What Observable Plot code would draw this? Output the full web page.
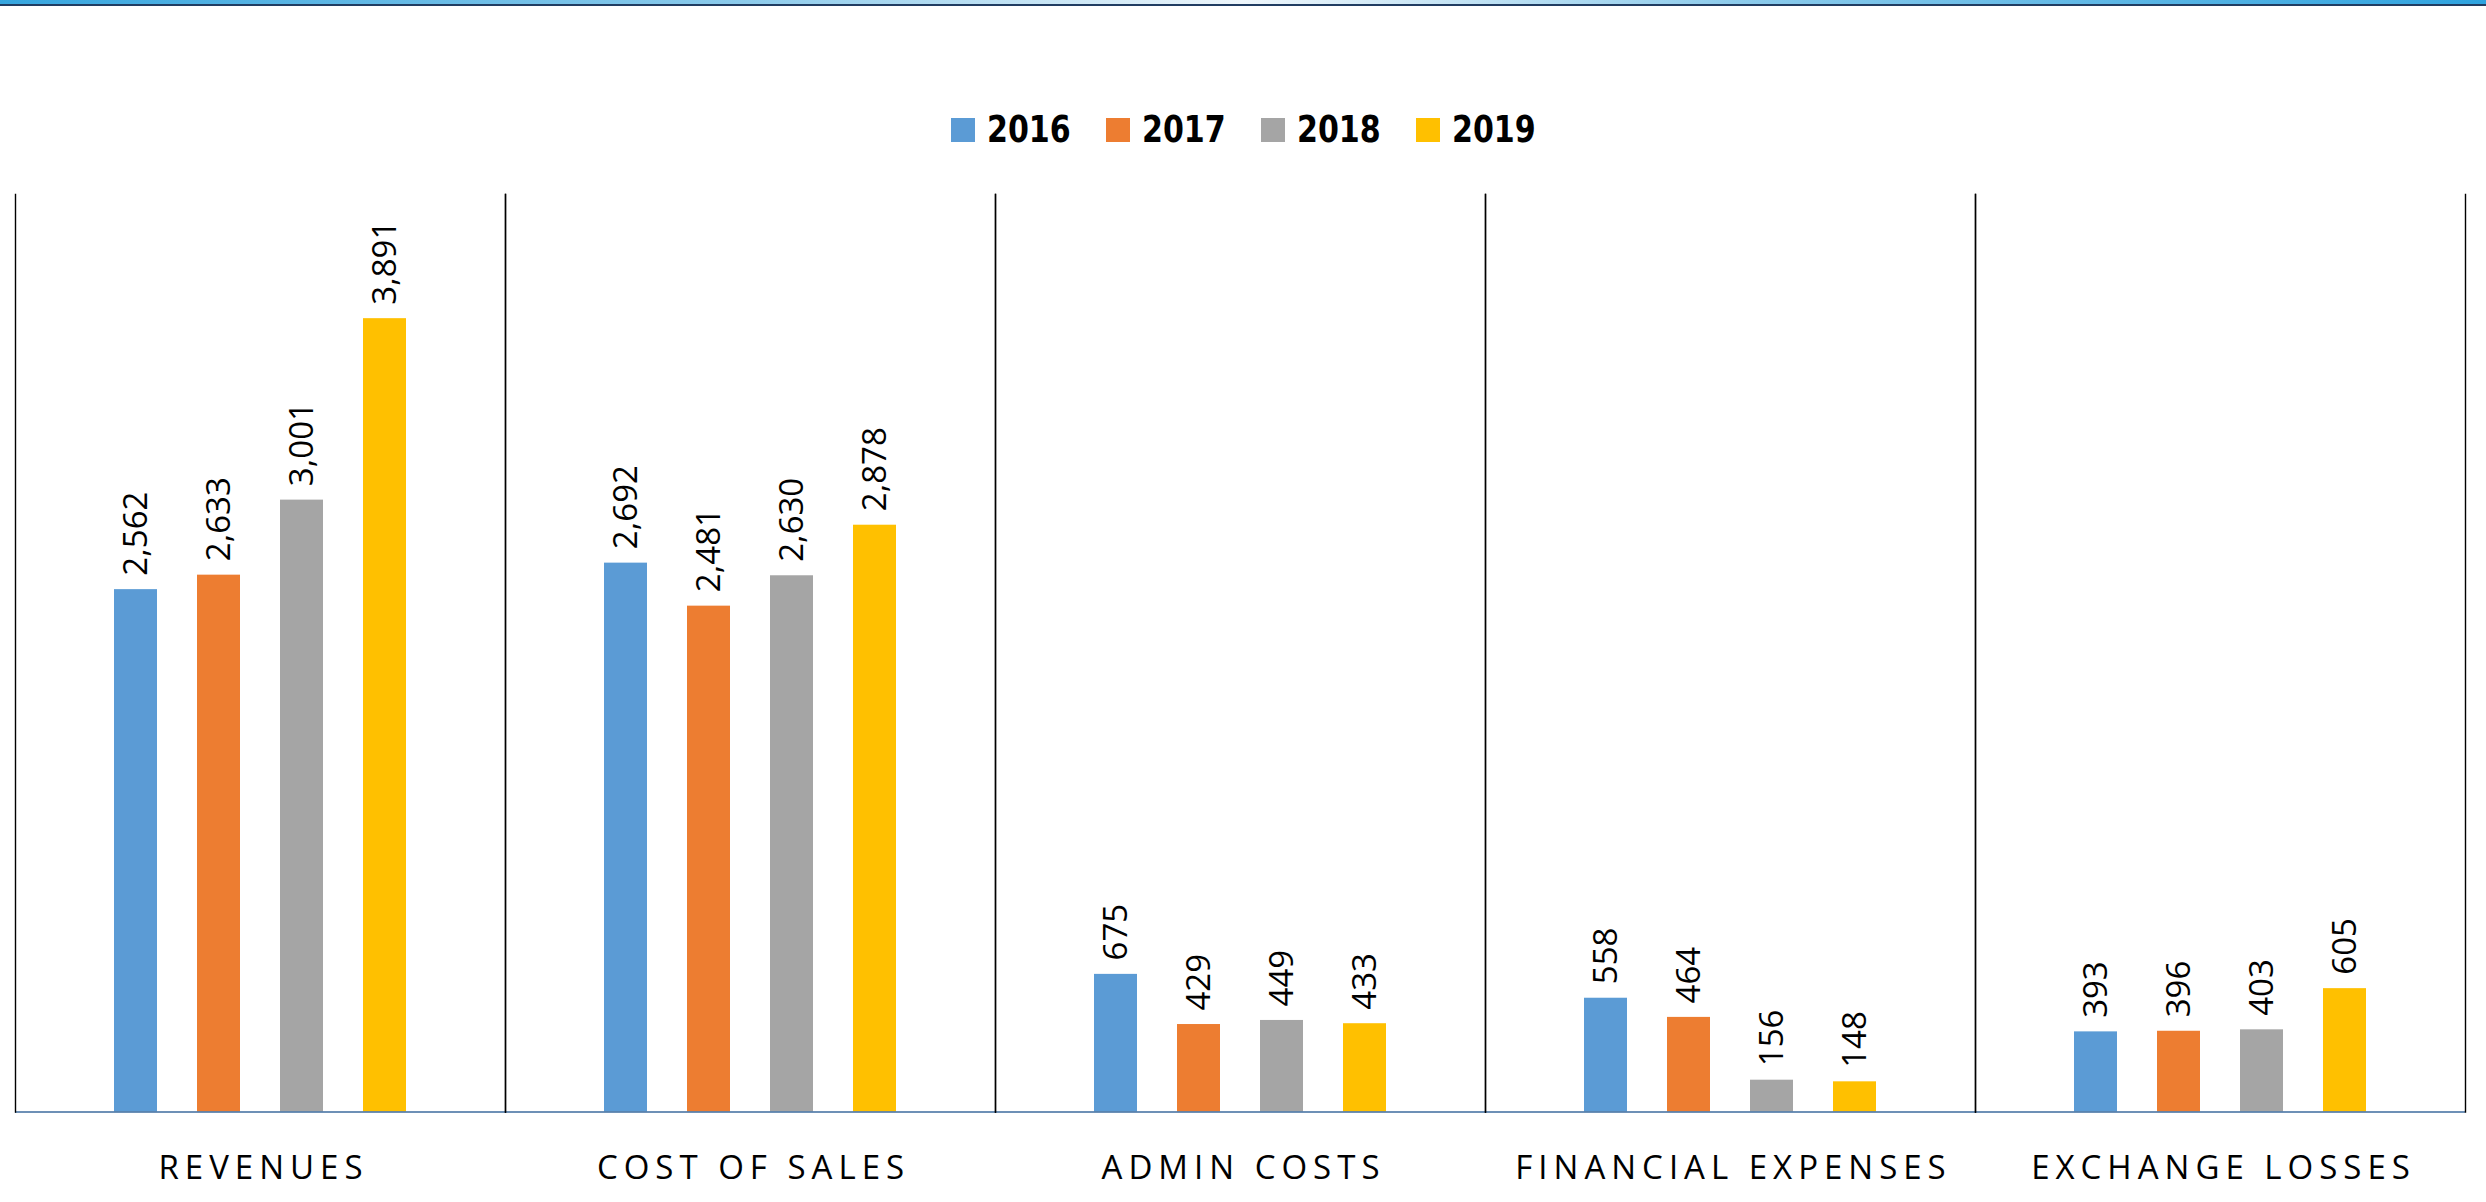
<!DOCTYPE html>
<html>
<head>
<meta charset="utf-8">
<script src="https://cdn.jsdelivr.net/npm/d3@7"></script>
<script src="https://cdn.jsdelivr.net/npm/@observablehq/plot@0.6"></script>
<style>
  html, body { margin: 0; padding: 0; background: #fff; }
  body { width: 2486px; height: 1202px; position: relative; overflow: hidden; }
  #topbar { position: absolute; left: 0; top: 0; width: 2486px; height: 4px;
    background: linear-gradient(to right, #36a6df 0%, #8ccbeb 30%, #eef6fb 50%, #8ccbeb 70%, #2ea3df 100%); }
  #topline { position: absolute; left: 0; top: 4px; width: 2486px; height: 2px; background: #213d62; }
  #legend { position: absolute; left: 0; top: 107.4px; width: 2486px;
    display: flex; justify-content: center; align-items: baseline;
    font-family: "DejaVu Sans Condensed", "DejaVu Sans", sans-serif;
    font-weight: bold; font-size: 38px; line-height: normal; color: #000; }
  .item { display: flex; align-items: baseline; margin: 0 17.5px; }
  .sw { width: 24px; height: 24px; margin-right: 12px; }
  .lbl { display: inline-block; width: 84px; white-space: nowrap;
    transform: scaleX(0.88); transform-origin: 0 50%; }
  #chart { position: absolute; left: 0; top: 180px; }
</style>
</head>
<body>
<div id="topbar"></div>
<div id="topline"></div>
<div id="legend"></div>
<div id="chart"></div>
<script>
const categories = ["REVENUES", "COST OF SALES", "ADMIN COSTS", "FINANCIAL EXPENSES", "EXCHANGE LOSSES"];
const years = ["2016", "2017", "2018", "2019"];
const colors = ["#5B9BD5", "#ED7D31", "#A5A5A5", "#FFC000"];
const values2016 = [2562, 2692, 675, 558, 393];
const values2017 = [2633, 2481, 429, 464, 396];
const values2018 = [3001, 2630, 449, 156, 403];
const values2019 = [3891, 2878, 433, 148, 605];
const yMax = 4500;

const series = [values2016, values2017, values2018, values2019];
const data = [];
categories.forEach((c, i) => {
  years.forEach((yr, j) => data.push({category: c, year: yr, value: series[j][i]}));
});

// legend
const legend = document.getElementById("legend");
years.forEach((yr, j) => {
  const it = document.createElement("div");
  it.className = "item";
  const sw = document.createElement("div");
  sw.className = "sw";
  sw.style.background = colors[j];
  const t = document.createElement("span");
  t.className = "lbl";
  t.textContent = yr;
  it.appendChild(sw);
  it.appendChild(t);
  legend.appendChild(it);
});

const fmt = d3.format(",");
const catSpacing = 6;

const chart = Plot.plot({
  width: 2486,
  height: 1022,
  marginTop: 14,
  marginBottom: 90.5,
  marginLeft: 13,
  marginRight: 20,
  style: {fontFamily: "'Open Sans', sans-serif", background: "white"},
  fx: {domain: categories, padding: 0, axis: null, label: null},
  x: {domain: years, paddingInner: 0.476, paddingOuter: 1.158, axis: null},
  y: {domain: [0, yMax], axis: null},
  color: {domain: years, range: colors},
  marks: [
    Plot.barY(data, {fx: "category", x: "year", y: "value", fill: "year"}),
    Plot.text(data, {
      fx: "category", x: "year", y: "value",
      text: d => fmt(d.value),
      rotate: -90, textAnchor: "start", lineAnchor: "middle",
      dy: -14, fontSize: 33, fill: "#000"
    }),
    Plot.ruleY([0], {stroke: "#3d6b9e", strokeWidth: 1.6}),
    Plot.frame({anchor: "left", stroke: "#000", strokeWidth: 1.4}),
    Plot.frame({anchor: "right", stroke: "#000", strokeWidth: 1.4}),
    Plot.text(categories, {
      fx: d => d, text: d => d,
      frameAnchor: "bottom", dy: 56, dx: catSpacing / 2, lineAnchor: "middle",
      fontSize: 33, fill: "#000"
    })
  ]
});

d3.select(chart).selectAll("text")
  .filter(function() { return categories.includes(this.textContent); })
  .style("letter-spacing", catSpacing + "px");
document.getElementById("chart").appendChild(chart);
</script>
</body>
</html>
